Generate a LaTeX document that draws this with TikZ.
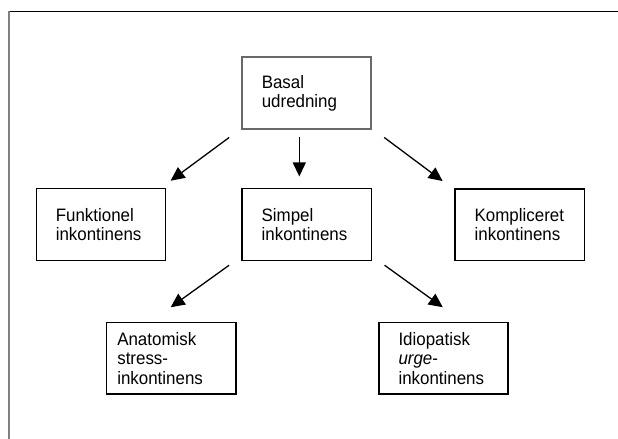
\documentclass[tikz,border=0pt]{standalone}
\usepackage{fontspec}
\setmainfont[FakeStretch=0.94]{Liberation Sans}
\usetikzlibrary{arrows.meta}

\definecolor{rammegraa}{RGB}{128,128,128}
\definecolor{boksgraa}{RGB}{105,105,105}

\begin{document}
\begin{tikzpicture}[x=1bp,y=-1bp,
                    boks/.style={draw,rectangle,line width=1.3bp,outer sep=0pt,
                      text width=90bp,inner xsep=19.6bp,minimum height=71.5bp,align=left,
                      font=\fontsize{18bp}{19.5bp}\selectfont},
                    pil/.style={-{Triangle[length=14bp,width=13bp]},line width=1.3bp}]
                    \useasboundingbox (0,0) rectangle (618,439);
                    % ramme
                    \draw [line width=1.3bp] (8,11.5) -- (618,11.5);
                    \draw [line width=2.2bp,rammegraa] (8.6,11) -- (8.6,439);
                    % bokse
                    \node [boks,draw=boksgraa,line width=2bp] (basal) at (306.8,93.2) {Basal\\udredning};
                    \node [boks] (funk) at (100.8,224.5) {Funktionel\\inkontinens};
                    \node [boks] (simpel) at (306.7,224.5) {Simpel\\inkontinens};
                    \node [boks] (kompl) at (519.7,224.8) {Kompliceret\\inkontinens};
                    \node [boks,text width=108bp,inner xsep=10.6bp] (anat) at (171.3,358.3) {Anatomisk\\stress-\\inkontinens};
                    \node [boks] (idio) at (443.5,358.3) {Idiopatisk\\\textit{urge}-\\inkontinens};
                    % pile
                    \draw [pil] ([xshift=-13bp,yshift=-8.5bp]basal.south west) -- ([xshift=5.2bp,yshift=8bp]funk.north east);
                    \draw [pil] ([xshift=-7.5bp,yshift=-8.5bp]basal.south) -- ([xshift=-7.4bp,yshift=12.3bp]simpel.north);
                    \draw [pil] ([xshift=12.8bp,yshift=-8.5bp]basal.south east) -- ([xshift=-12.5bp,yshift=8bp]kompl.north west);
                    \draw [pil] ([xshift=-13bp,yshift=-5bp]simpel.south west) -- ([xshift=-0.6bp,yshift=15.3bp]anat.north);
                    \draw [pil] ([xshift=13.3bp,yshift=-5bp]simpel.south east) -- ([xshift=-0.7bp,yshift=15.3bp]idio.north);
                \end{tikzpicture}
\end{document}
